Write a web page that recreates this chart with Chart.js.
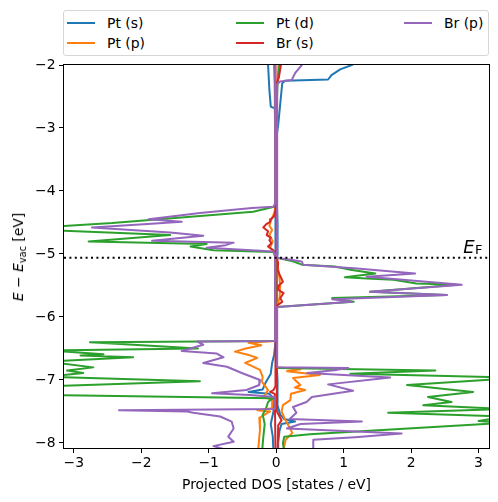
<!DOCTYPE html>
<html>
<head>
<meta charset="utf-8">
<title>Projected DOS</title>
<script src="https://cdn.jsdelivr.net/npm/chart.js@4/dist/chart.umd.min.js"></script>
<style>
  html, body { margin: 0; padding: 0; background: #fff; }
  #wrap { position: relative; width: 498px; height: 502px; font-family: "DejaVu Sans", sans-serif; font-size: 13.9px; color: #000; }
  canvas { position: absolute; left: 0; top: 0; }
  .legend { position: absolute; left: 63px; top: 10px; width: 424px; height: 44px; border: 1px solid #d6d6d6; border-radius: 3px; background: #fff; }
  .legend-item { position: absolute; height: 20px; line-height: 20px; display: flex; align-items: center; white-space: nowrap; }
  .legend-item .swatch { width: 28px; height: 2px; margin-right: 12px; }
  .xlabel { position: absolute; left: 64px; width: 425px; top: 476px; line-height: 16px; text-align: center; }
  .ylabel { position: absolute; left: 18px; top: 256.5px; transform: translate(-50%, -50%) rotate(-90deg); white-space: nowrap; line-height: 16px; }
  .ylabel sub { font-size: 70%; vertical-align: -3px; line-height: 0; }
</style>
</head>
<body>
<div id="wrap">
  <canvas id="dos" width="498" height="502"></canvas>
  <div class="legend" id="legend"></div>
  <div class="xlabel">Projected DOS [states / eV]</div>
  <div class="ylabel"><i>E</i> &minus; <i>E</i><sub>vac</sub> [eV]</div>
</div>
<script>
// energies in eV (relative to vacuum), DOS in states / eV; spin down is negative
const fermiLevel = -5.06;
const xTicks = [-3, -2, -1, 0, 1, 2, 3];
const yTicks = [-2, -3, -4, -5, -6, -7, -8];

// [energy, dos]
const ptSUp = [
  [-1.90, 1.30], [-2.00, 1.12], [-2.07, 0.95], [-2.16, 0.82], [-2.23, 0.77], [-2.25, 0.13],
  [-2.29, 0.09], [-2.95, 0.03], [-3.10, 0.01], [-4.20, 0.01], [-4.50, 0.02], [-5.00, 0.02],
  [-5.10, 0.01], [-6.80, 0.01], [-7.00, 0.02], [-7.40, 0.02], [-7.55, 0.06], [-7.62, 0.12],
  [-7.66, 0.28], [-7.70, 0.08], [-7.80, 0.05], [-8.00, 0.03], [-8.15, 0.03],
];
const ptSDown = [
  [-1.90, -0.12], [-2.00, -0.12], [-2.40, -0.10], [-2.66, -0.08], [-2.69, -0.02], [-3.00, -0.01],
  [-6.40, -0.01], [-6.60, -0.03], [-6.73, -0.06], [-6.90, -0.08], [-7.05, -0.16], [-7.15, -0.20],
  [-7.19, -0.41], [-7.22, -0.10], [-7.30, -0.03], [-7.50, -0.04], [-7.70, -0.08], [-7.90, -0.05],
  [-8.15, -0.04],
];
const ptPUp = [
  [-1.90, 0.04], [-2.25, 0.02], [-2.40, 0.01], [-5.10, 0.01], [-5.30, 0.04], [-5.50, 0.06],
  [-5.70, 0.05], [-5.85, 0.01], [-6.80, 0.01], [-6.83, 0.36], [-6.86, 0.16], [-6.92, 0.65],
  [-6.97, 0.25], [-7.02, 0.30], [-7.08, 0.36], [-7.12, 0.28], [-7.16, 0.43], [-7.22, 0.22],
  [-7.32, 0.21], [-7.40, 0.10], [-7.50, 0.08], [-7.60, 0.12], [-7.72, 0.18], [-7.84, 0.24],
  [-7.95, 0.14], [-8.15, 0.10],
];
const ptPDown = [
  [-1.90, -0.03], [-2.50, -0.02], [-4.25, -0.01], [-4.35, -0.03], [-4.45, -0.07], [-4.55, -0.10],
  [-4.62, -0.06], [-4.70, -0.10], [-4.80, -0.05], [-4.90, -0.09], [-4.97, -0.02], [-5.10, -0.01],
  [-6.38, -0.01], [-6.41, -0.41], [-6.45, -0.22], [-6.50, -0.45], [-6.55, -0.61], [-6.60, -0.42],
  [-6.65, -0.28], [-6.73, -0.46], [-6.84, -0.24], [-6.95, -0.20], [-7.03, -0.21], [-7.16, -0.12],
  [-7.27, -0.19], [-7.32, -0.05], [-7.45, -0.06], [-7.48, -0.28], [-7.50, -0.09], [-7.60, -0.25],
  [-7.79, -0.24], [-8.15, -0.27],
];
const ptDUp = [
  [-1.90, 0.06], [-2.00, 0.05], [-2.30, 0.02], [-2.60, 0.01], [-5.06, 0.01], [-5.12, 0.26],
  [-5.17, 0.38], [-5.20, 0.87], [-5.25, 1.10], [-5.31, 1.47], [-5.37, 1.02], [-5.39, 1.34],
  [-5.41, 1.74], [-5.47, 2.08], [-5.49, 2.68], [-5.60, 1.39], [-5.65, 2.53], [-5.70, 0.83],
  [-5.76, 1.15], [-5.84, 0.01], [-6.81, 0.01], [-6.85, 2.36], [-6.90, 1.10], [-6.96, 3.40],
  [-6.98, 3.40], [-7.08, 1.94], [-7.19, 2.92], [-7.27, 2.25], [-7.35, 2.60], [-7.40, 2.18],
  [-7.46, 3.40], [-7.52, 1.66], [-7.58, 3.40], [-7.65, 3.00], [-7.68, 3.40], [-7.86, 0.50],
  [-7.90, 0.12], [-8.00, 0.10], [-8.15, 0.12],
];
const ptDDown = [
  [-1.90, -0.03], [-2.50, -0.01], [-4.20, -0.01], [-4.25, -0.03], [-4.33, -0.34], [-4.43, -1.50],
  [-4.51, -2.43], [-4.57, -3.40], [-4.62, -3.40], [-4.70, -1.57], [-4.80, -2.78], [-4.84, -1.03],
  [-4.88, -1.27], [-4.94, -0.93], [-4.97, -0.04], [-5.06, -0.01], [-6.38, -0.01], [-6.40, -2.76],
  [-6.50, -1.16], [-6.53, -3.40], [-6.59, -2.56], [-6.61, -2.90], [-6.64, -2.12], [-6.71, -3.40],
  [-6.80, -2.71], [-6.85, -3.10], [-6.89, -2.86], [-6.95, -3.40], [-7.02, -1.13], [-7.10, -3.40],
  [-7.24, -3.40], [-7.29, -0.05], [-7.35, -0.12], [-7.45, -0.15], [-7.55, -0.20], [-7.70, -0.17],
  [-7.90, -0.19], [-8.15, -0.21],
];
const brSUp = [
  [-1.90, 0.07], [-2.00, 0.07], [-2.20, 0.04], [-2.28, 0.01], [-5.06, 0.01], [-5.15, 0.03],
  [-5.25, 0.02], [-5.35, 0.06], [-5.44, 0.10], [-5.50, 0.04], [-5.57, 0.03], [-5.62, 0.11],
  [-5.70, 0.06], [-5.76, 0.09], [-5.82, 0.01], [-7.50, 0.01], [-7.58, 0.05], [-7.64, 0.08],
  [-7.72, 0.03], [-8.15, 0.02],
];
const brSDown = [
  [-1.90, -0.01], [-4.30, -0.01], [-4.40, -0.03], [-4.45, -0.08], [-4.49, -0.09], [-4.53, -0.15],
  [-4.58, -0.19], [-4.64, -0.12], [-4.70, -0.14], [-4.74, -0.08], [-4.78, -0.10], [-4.83, -0.07],
  [-4.88, -0.12], [-4.93, -0.06], [-4.97, -0.01], [-7.10, -0.01], [-7.16, -0.04], [-7.19, -0.09],
  [-7.22, -0.02], [-8.15, -0.01],
];
const brPUp = [
  [-1.90, 0.42], [-2.00, 0.38], [-2.13, 0.28], [-2.24, 0.23], [-2.26, 0.06], [-2.30, 0.015],
  [-5.06, 0.015], [-5.12, 0.38], [-5.17, 0.40], [-5.23, 1.20], [-5.31, 2.06], [-5.36, 1.34],
  [-5.40, 1.79], [-5.49, 2.75], [-5.60, 1.39], [-5.65, 2.53], [-5.72, 0.83], [-5.76, 1.12],
  [-5.84, 0.015], [-6.80, 0.015], [-6.81, 1.07], [-6.84, 0.90], [-6.89, 0.46], [-6.96, 1.69],
  [-7.07, 0.77], [-7.17, 1.14], [-7.27, 0.53], [-7.35, 0.45], [-7.43, 0.25], [-7.52, 0.30],
  [-7.62, 0.20], [-7.66, 1.27], [-7.70, 0.36], [-7.77, 0.16], [-7.85, 1.86], [-7.91, 1.17],
  [-7.95, 0.55], [-8.15, 0.55],
];
const brPDown = [
  [-1.90, -0.015], [-4.20, -0.015], [-4.25, -0.04], [-4.27, -0.36], [-4.35, -1.13], [-4.45, -1.89],
  [-4.49, -1.40], [-4.52, -1.85], [-4.58, -2.73], [-4.66, -1.57], [-4.71, -1.08], [-4.79, -1.84],
  [-4.82, -0.63], [-4.86, -0.75], [-4.90, -1.03], [-4.96, -0.04], [-5.00, -0.015], [-6.38, -0.015],
  [-6.39, -1.17], [-6.44, -1.08], [-6.54, -1.40], [-6.58, -0.88], [-6.64, -0.78], [-6.73, -1.08],
  [-6.79, -0.73], [-6.89, -0.51], [-7.00, -0.24], [-7.08, -0.25], [-7.16, -0.44], [-7.21, -0.95],
  [-7.24, -0.39], [-7.27, -0.02], [-7.46, -0.02], [-7.48, -2.33], [-7.50, -1.32], [-7.52, -1.23],
  [-7.58, -0.83], [-7.66, -0.66], [-7.77, -0.63], [-7.90, -0.71], [-7.98, -0.63], [-8.05, -0.93],
  [-8.15, -0.60],
];

const orbitals = [
  { label: "Pt (s)", color: "#1f77b4", up: ptSUp, down: ptSDown },
  { label: "Pt (p)", color: "#ff7f0e", up: ptPUp, down: ptPDown },
  { label: "Pt (d)", color: "#2ca02c", up: ptDUp, down: ptDDown },
  { label: "Br (s)", color: "#d62728", up: brSUp, down: brSDown },
  { label: "Br (p)", color: "#9467bd", up: brPUp, down: brPDown },
];

const xMin = -3.145;
const xMax = 3.155;
const yMin = -8.08;
const yMax = -2;
const fontFamily = '"DejaVu Sans", sans-serif';

function toPoints(rows) {
  return rows.map(([energy, dos]) => ({ x: dos, y: energy }));
}

function minusLabel(value) {
  return value < 0 ? `\u2212${Math.abs(value)}` : String(value);
}

function lineDataset(orbital, rows, index) {
  return {
    label: orbital.label,
    data: toPoints(rows),
    borderColor: orbital.color,
    backgroundColor: orbital.color,
    borderWidth: 2,
    borderJoinStyle: "round",
    showLine: true,
    fill: false,
    pointRadius: 0,
    tension: 0,
    // first orbitals go underneath, as in the plotting order
    order: 10 - index,
  };
}

const datasets = [];
orbitals.forEach((orbital, index) => {
  datasets.push(lineDataset(orbital, orbital.up, index));
  datasets.push(lineDataset(orbital, orbital.down, index));
});
datasets.push({
  label: "E_F",
  data: [{ x: xMin, y: fermiLevel }, { x: xMax, y: fermiLevel }],
  borderColor: "#000",
  borderWidth: 2,
  borderDash: [2, 3.4],
  borderCapStyle: "butt",
  showLine: true,
  pointRadius: 0,
  order: 0,
});

const framePlugin = {
  id: "frame",
  afterDatasetsDraw(chart) {
    const { ctx, chartArea, scales } = chart;
    ctx.save();
    ctx.strokeStyle = "#000";
    ctx.lineWidth = 1;
    ctx.strokeRect(chartArea.left - 0.5, chartArea.top - 0.5, chartArea.right - chartArea.left + 1, chartArea.bottom - chartArea.top + 1);

    // Fermi level label
    const baseline = scales.y.getPixelForValue(fermiLevel) - 5;
    ctx.fillStyle = "#000";
    ctx.font = `italic 18px ${fontFamily}`;
    const wE = ctx.measureText("E").width;
    ctx.font = `13px ${fontFamily}`;
    const wF = ctx.measureText("F").width;
    const x0 = chartArea.right - 7 - wE - wF;
    ctx.font = `italic 18px ${fontFamily}`;
    ctx.fillText("E", x0, baseline);
    ctx.font = `13px ${fontFamily}`;
    ctx.fillText("F", x0 + wE + 0.5, baseline + 1);
    ctx.restore();
  },
};

const tickFont = { family: fontFamily, size: 13.9 };

const chart = new Chart(document.getElementById("dos"), {
  type: "scatter",
  data: { datasets },
  plugins: [framePlugin],
  options: {
    responsive: false,
    animation: false,
    layout: { padding: { top: 65, right: 9, left: 0, bottom: 0 } },
    plugins: {
      legend: { display: false },
      tooltip: { enabled: false },
    },
    scales: {
      x: {
        type: "linear",
        min: xMin,
        max: xMax,
        afterFit: (scale) => { scale.height = 54; },
        afterBuildTicks: (scale) => { scale.ticks = xTicks.map((value) => ({ value })); },
        grid: { drawOnChartArea: false, drawTicks: true, tickLength: 5, color: "#000" },
        border: { display: false },
        ticks: { color: "#000", font: tickFont, padding: 2, maxRotation: 0, autoSkip: false, callback: minusLabel },
      },
      y: {
        type: "linear",
        min: yMin,
        max: yMax,
        afterFit: (scale) => { scale.width = 64; },
        afterBuildTicks: (scale) => { scale.ticks = yTicks.map((value) => ({ value })); },
        grid: { drawOnChartArea: false, drawTicks: true, tickLength: 5, color: "#000" },
        border: { display: false },
        ticks: { color: "#000", font: tickFont, padding: 3.5, autoSkip: false, callback: minusLabel },
      },
    },
  },
});

// legend in matplotlib's column-major order, 3 columns
function renderLegend() {
  const container = document.getElementById("legend");
  const colLeft = [3, 172, 340];
  const rowTop = [1.5, 21.5];
  orbitals.forEach((orbital, index) => {
    const col = Math.floor(index / 2);
    const row = index % 2;
    const item = document.createElement("div");
    item.className = "legend-item";
    item.style.left = `${colLeft[col]}px`;
    item.style.top = `${rowTop[row]}px`;
    item.innerHTML = `<span class="swatch" style="background:${orbital.color}"></span><span>${orbital.label}</span>`;
    container.appendChild(item);
  });
}

renderLegend();
</script>
</body>
</html>
